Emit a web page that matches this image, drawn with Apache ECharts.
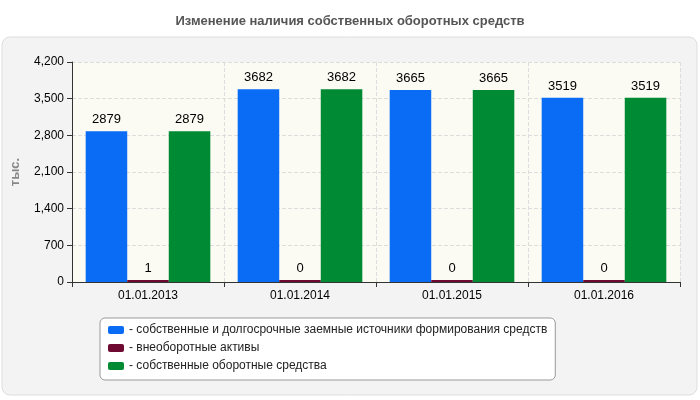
<!DOCTYPE html>
<html><head><meta charset="utf-8">
<script src="https://cdn.jsdelivr.net/npm/echarts@6/dist/echarts.min.js"></script>
<style>html,body{margin:0;padding:0;background:#fff}#c{width:700px;height:400px}</style>
</head><body><div id="c"></div>
<script>
// data
var categories = ['01.01.2013', '01.01.2014', '01.01.2015', '01.01.2016'];
var ownLongTerm = [2879, 3682, 3665, 3519];
var nonCurrent = [1, 0, 0, 0];
var ownWorking = [2879, 3682, 3665, 3519];
var seriesNames = [
  '- собственные и долгосрочные заемные источники формирования средств',
  '- внеоборотные активы',
  '- собственные оборотные средства'
];

var chart = echarts.init(document.getElementById('c'));
var lbl = { show: true, position: 'top', color: '#000', fontSize: 13, fontFamily: 'Arial' };

chart.setOption({
  animation: false,
  textStyle: { fontFamily: 'Arial' },
  title: {
    text: 'Изменение наличия собственных оборотных средств',
    left: 'center', top: 10,
    textStyle: { fontSize: 13, fontWeight: 'bold', color: '#555' }
  },
  graphic: [{
    type: 'rect', z: -10,
    shape: { x: 2, y: 37, width: 695, height: 358, r: 8 },
    style: { fill: '#f3f3f3', stroke: '#ddd' }
  }],
  grid: { left: 72, right: 20, top: 62, bottom: 118, backgroundColor: '#fbfbf3', show: true, borderWidth: 0 },
  legend: {
    orient: 'vertical', left: 100, top: 318, width: 500,
    itemWidth: 16, itemHeight: 8, itemGap: 6, padding: [6, 8, 8, 8],
    backgroundColor: '#fff', borderColor: '#999', borderWidth: 1, borderRadius: 5,
    textStyle: { fontSize: 12, color: '#222' },
    icon: 'roundRect'
  },
  xAxis: {
    type: 'category', data: categories,
    axisLine: { lineStyle: { color: '#333' } },
    axisTick: { show: true, alignWithLabel: false, lineStyle: { color: '#333' } },
    axisLabel: { color: '#000', fontSize: 12 },
    splitLine: { show: true, lineStyle: { color: '#ddd', type: 'dashed' } }
  },
  yAxis: {
    type: 'value', min: 0, max: 4200, interval: 700,
    name: 'тыс.', nameLocation: 'middle', nameGap: 50, nameRotate: 90,
    nameTextStyle: { color: '#888', fontWeight: 'bold', fontSize: 13 },
    axisLine: { show: true, lineStyle: { color: '#333' } },
    axisTick: { show: true },
    axisLabel: { color: '#000', fontSize: 12 },
    splitLine: { lineStyle: { color: '#ddd', type: 'dashed' } }
  },
  series: [
    { name: seriesNames[0], type: 'bar', data: ownLongTerm, barGap: '0%', barCategoryGap: '18%', itemStyle: { color: '#0a6cf5' }, label: lbl },
    { name: seriesNames[1], type: 'bar', data: nonCurrent, barMinHeight: 2, itemStyle: { color: '#6e0a32' }, label: lbl },
    { name: seriesNames[2], type: 'bar', data: ownWorking, itemStyle: { color: '#008a33' }, label: lbl }
  ]
});
</script></body></html>
